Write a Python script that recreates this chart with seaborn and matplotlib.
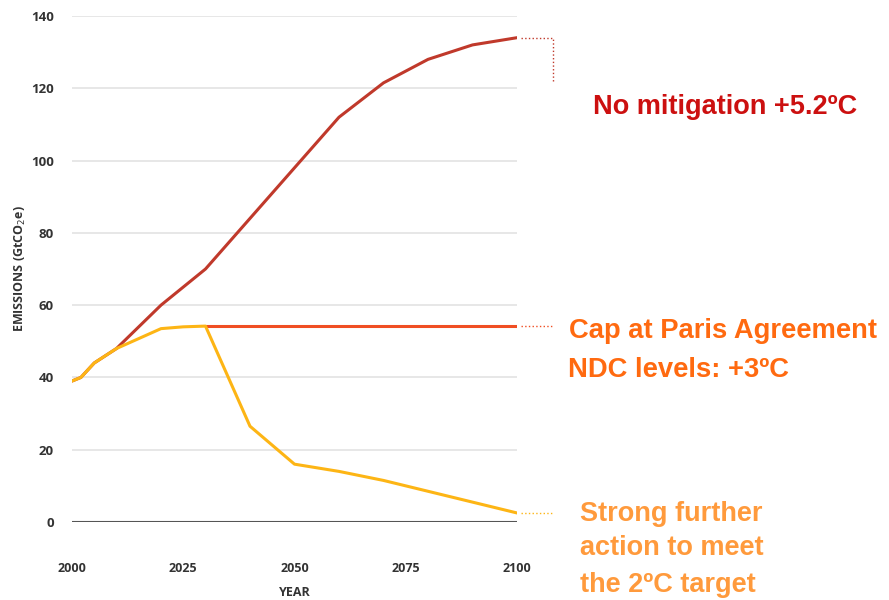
import matplotlib
matplotlib.use("Agg")
import matplotlib.pyplot as plt
import seaborn as sns
import pandas as pd

# scenario data, GtCO2e per year
years_nomit = [2000, 2002, 2005, 2010, 2020, 2030, 2040, 2050, 2060, 2070, 2080, 2090, 2100]
nomit = [39, 40, 44, 48, 60, 70, 84, 98, 112, 121.5, 128, 132, 134]

years_cap = [2030, 2100]
cap = [54.2, 54.2]

years_2c = [2000, 2002, 2005, 2010, 2020, 2025, 2030, 2040, 2050, 2060, 2070, 2080, 2090, 2100]
strong = [39, 40, 44, 48, 53.5, 54, 54.2, 26.5, 16, 14, 11.5, 8.5, 5.5, 2.5]

yticks = [0, 20, 40, 60, 80, 100, 120, 140]
xticks = [2000, 2025, 2050, 2075, 2100]

c_red = "#c0392b"
c_cap = "#f04e23"
c_yel = "#fdb515"

sns.set_style("white")
plt.rcParams["font.family"] = ["Open Sans", "DejaVu Sans"]

fig = plt.figure(figsize=(8.89, 6), dpi=100)
ax = fig.add_axes([72 / 889, 78 / 600, 445 / 889, 506 / 600])

sns.lineplot(x=years_nomit, y=nomit, ax=ax, color=c_red, lw=2.2)
sns.lineplot(x=years_cap, y=cap, ax=ax, color=c_cap, lw=2.2)
sns.lineplot(x=years_2c, y=strong, ax=ax, color=c_yel, lw=2.2)

ax.set_xlim(2000, 2100)
ax.set_ylim(0, 140)
ax.set_yticks(yticks)
ax.set_xticks(xticks)
for v in yticks[1:]:
    ax.axhline(v, color="#e3e3e3", lw=1.2, zorder=0)
ax.axhline(0, color="#555555", lw=1.5, zorder=1)
for s in ax.spines.values():
    s.set_visible(False)

ax.tick_params(axis="y", length=0, pad=13, labelsize=9.5, labelcolor="#333333")
ax.tick_params(axis="x", length=0, pad=29, labelsize=9, labelcolor="#333333")
for lab in ax.get_xticklabels() + ax.get_yticklabels():
    lab.set_fontweight("bold")

ax.set_xlabel("YEAR", fontsize=9, fontweight="bold", color="#333333", labelpad=8)
ax.set_ylabel("EMISSIONS (GtCO$_2$e)", fontsize=9, fontweight="bold", color="#333333", labelpad=2)

# dotted leader lines to the annotations
ax.plot([2101, 2108, 2108], [nomit[-1], nomit[-1], 122], ls=":", color=c_red, lw=1, clip_on=False)
ax.plot([2101, 2108], [cap[-1], cap[-1]], ls=":", color=c_cap, lw=1, clip_on=False)
ax.plot([2101, 2108], [strong[-1], strong[-1]], ls=":", color=c_yel, lw=1, clip_on=False)

lab_font = ["Liberation Sans", "DejaVu Sans"]
fig.text(725 / 889, 1 - 107 / 600, "No mitigation +5.2ºC", ha="center", va="center",
         fontsize=19.5, fontweight="bold", color="#cc1010", family=lab_font)
fig.text(569 / 889, 1 - 331 / 600, "Cap at Paris Agreement", ha="left", va="center",
         fontsize=19.7, fontweight="bold", color="#ff6a10", family=lab_font)
fig.text(568 / 889, 1 - 370 / 600, "NDC levels: +3ºC", ha="left", va="center",
         fontsize=19.7, fontweight="bold", color="#ff6a10", family=lab_font)
for txt, yy in [("Strong further", 514), ("action to meet", 548), ("the 2ºC target", 585)]:
    fig.text(580 / 889, 1 - yy / 600, txt, ha="left", va="center",
             fontsize=19.5, fontweight="bold", color="#ff9a3c", family=lab_font)

fig.savefig("out.png", dpi=100)
